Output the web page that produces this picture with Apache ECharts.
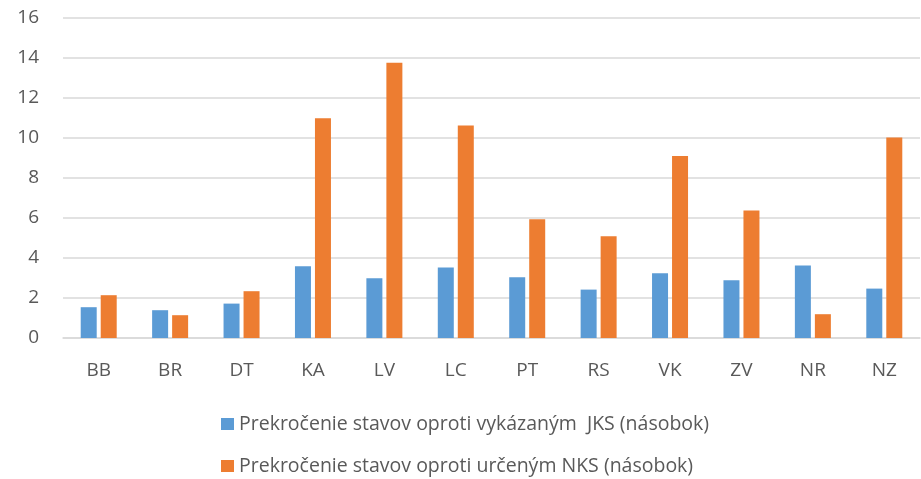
<!DOCTYPE html>
<html><head><meta charset="utf-8">
<script src="https://cdn.jsdelivr.net/npm/echarts@6/dist/echarts.min.js"></script>
<style>html,body{margin:0;padding:0;background:#fff}#c{width:921px;height:479px}</style>
</head><body><div id="c"></div>
<script>
const categories = ['BB','BR','DT','KA','LV','LC','PT','RS','VK','ZV','NR','NZ'];
const seriesNames = ['Prekročenie stavov oproti vykázaným  JKS (násobok)', 'Prekročenie stavov oproti určeným NKS (násobok)'];
const jks = [1.54, 1.39, 1.72, 3.59, 2.99, 3.52, 3.04, 2.42, 3.24, 2.89, 3.62, 2.47];
const nks = [2.14, 1.14, 2.34, 10.99, 13.76, 10.63, 5.94, 5.09, 9.10, 6.38, 1.19, 10.02];
const yTicks = {min: 0, max: 16, interval: 2};
const font = '"Open Sans", sans-serif';
const legendText = {fontFamily: font, fontSize: 19.5, color: '#595959', lineHeight: 20};
const chart = echarts.init(document.getElementById('c'));
chart.setOption({
  animation: false,
  grid: {left: 63, right: 1, top: 18, bottom: 141, containLabel: false},
  legend: [
    {left: 216, top: 409, itemWidth: 13, itemHeight: 12, itemGap: 4, icon: 'rect', textStyle: legendText, data: [seriesNames[0]]},
    {left: 216, top: 451, itemWidth: 13, itemHeight: 12, itemGap: 4, icon: 'rect', textStyle: legendText, data: [seriesNames[1]]}
  ],
  xAxis: {
    type: 'category', data: categories,
    axisLine: {lineStyle: {color: '#d9d9d9', width: 1.5}},
    axisTick: {show: false},
    axisLabel: {fontFamily: font, fontSize: 19, color: '#595959', margin: 23}
  },
  yAxis: {
    type: 'value', min: yTicks.min, max: yTicks.max, interval: yTicks.interval,
    axisLine: {show: false}, axisTick: {show: false},
    splitLine: {lineStyle: {color: '#d9d9d9', width: 1.5}},
    axisLabel: {fontFamily: font, fontSize: 19, color: '#595959', margin: 24}
  },
  series: [
    {name: seriesNames[0], type: 'bar', data: jks, barWidth: 16, barGap: '25%', itemStyle: {color: '#5B9BD5'}},
    {name: seriesNames[1], type: 'bar', data: nks, barWidth: 16, itemStyle: {color: '#ED7D31'}}
  ]
});
</script></body></html>
